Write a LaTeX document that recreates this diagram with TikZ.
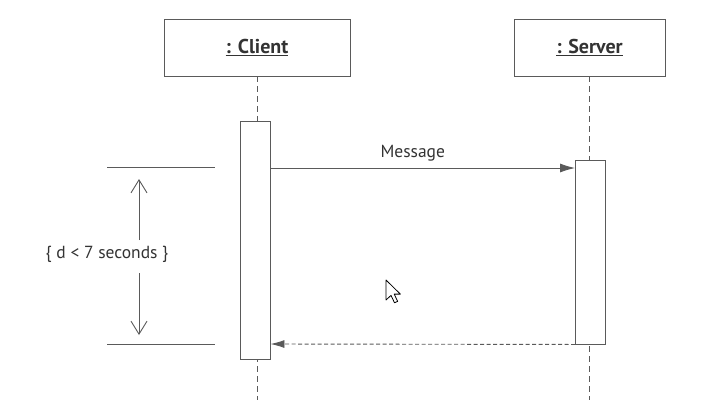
\documentclass[tikz,border=0pt]{standalone}
\usepackage{fontspec}
\setmainfont{PT Sans}
\usetikzlibrary{arrows.meta}
\definecolor{ln}{HTML}{5A5A5A}
\definecolor{tx}{HTML}{333333}
\begin{document}
\begin{tikzpicture}[x=1pt,y=-1pt,
  every node/.style={text=tx,font=\fontsize{17.5}{20}\selectfont},
  objbox/.style={draw=ln,line width=0.9pt,fill=white,minimum height=57pt,inner sep=0pt,font=\fontsize{20}{22}\selectfont\bfseries},
  actbox/.style={draw=ln,line width=0.9pt,fill=white,minimum width=30pt,inner sep=0pt},
  life/.style={draw=ln,line width=0.9pt,dash pattern=on 6pt off 4pt},
  msg/.style={draw=ln,line width=0.9pt,-{Latex[length=15pt,width=9pt]}},
  ret/.style={draw=ln,line width=0.9pt,dash pattern=on 4pt off 2.5pt,-{Latex[length=14pt,width=8pt]}},
  tick/.style={draw=ln,line width=0.9pt},
  dim/.style={draw=ln,line width=0.9pt,-{Straight Barb[length=13pt,width=16pt]}}]
\useasboundingbox (0,0) rectangle (719,400);
% lifelines
\coordinate (cl0) at (257,76);
\coordinate (cl1) at (257,400);
\coordinate (sl0) at (589.5,76);
\coordinate (sl1) at (589.5,400);
\path[life] (cl0) -- (cl1);
\path[life] (sl0) -- (sl1);
% objects
\node[objbox,minimum width=186pt] (client) at (257,47.5) {\underline{: Client}};
\node[objbox,minimum width=151pt] (server) at (589.5,47.5) {\underline{: Server}};
% activations
\node[actbox,minimum height=238pt] (ca) at (255,240) {};
\node[actbox,minimum height=184pt] (sa) at (590.5,252) {};
% messages
\coordinate (m0) at (ca.east |- 0,168);
\coordinate (m1) at (sa.west |- 0,168);
\path[msg] (m0) -- node[above=3pt,xshift=-10pt] (mlab) {Message} (m1);
\coordinate (r0) at (sa.south west);
\coordinate (r1) at (ca.east |- 0,344);
\path[ret] (r0) -- (r1);
% duration constraint
\coordinate (t0a) at (107,167);
\coordinate (t0b) at (215,167);
\coordinate (t1a) at (107,344);
\coordinate (t1b) at (215,344);
\path[tick] (t0a) -- (t0b);
\path[tick] (t1a) -- (t1b);
\node (dlab) at (107,254) {\{ d < 7 seconds \}};
\coordinate (da) at (139,179);
\coordinate (db) at (139,335);
\path[dim] (139,240) -- (da);
\path[dim] (139,273) -- (db);
% mouse cursor
\draw[line width=0.8pt,fill=white,line join=round,shift={(386,280)},scale=1.25]
  (0,0) -- (0,16) -- (4,12.3) -- (6.8,18.2) -- (9.3,17.1) -- (6.6,11.3) -- (11.5,11.3) -- cycle;
\end{tikzpicture}
\end{document}
